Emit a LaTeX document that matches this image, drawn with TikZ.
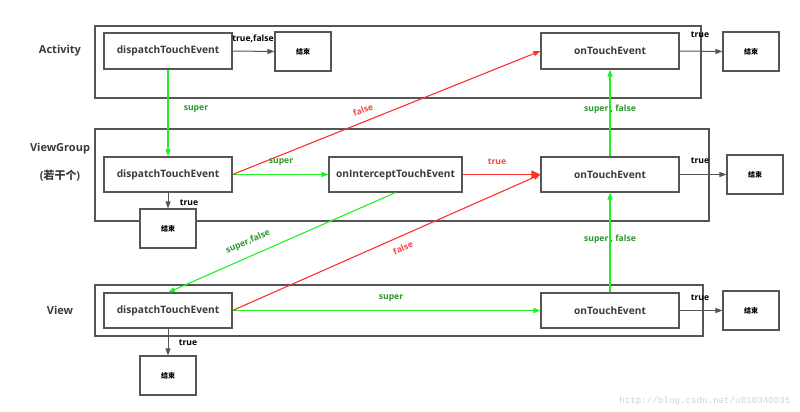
\documentclass[tikz,border=0pt]{standalone}
\usepackage{fontspec}
\setmainfont{Open Sans}
\newfontfamily\cjk{Noto Sans CJK SC}
\newfontfamily\wmfont{Liberation Mono}
\usetikzlibrary{arrows.meta}
\definecolor{boxgray}{HTML}{555555}
\definecolor{txtgray}{HTML}{3A3A3A}
\definecolor{lgreen}{HTML}{22F022}
\definecolor{dgreen}{HTML}{2A962A}
\definecolor{lred}{HTML}{FF3030}
\definecolor{tred}{HTML}{F04848}
\tikzset{
  grp/.style={draw=boxgray, line width=1.1pt, inner sep=0pt},
  fbox/.style={draw=boxgray, line width=1.1pt, fill=white, inner sep=0pt, font=\bfseries\fontsize{10.2}{12}\selectfont, text=txtgray},
  endbox/.style={draw=boxgray, line width=1.1pt, fill=white, inner sep=0pt, minimum width=56pt, minimum height=39pt, font=\cjk\bfseries\fontsize{7}{8}\selectfont, text=black},
  sidelbl/.style={font=\bfseries\fontsize{11}{13}\selectfont, text=txtgray},
  blbl/.style={font=\bfseries\fontsize{8.6}{10}\selectfont, text=black},
  glbl/.style={font=\bfseries\fontsize{8.6}{10}\selectfont, text=dgreen},
  rlbl/.style={font=\bfseries\fontsize{8.6}{10}\selectfont, text=tred},
  barr/.style={draw=boxgray, line width=1pt, -{Triangle[length=7pt,width=5pt]}},
  garr/.style={draw=lgreen, line width=1.1pt, -{Triangle[length=7pt,width=5pt]}},
  rarr/.style={draw=lred, line width=1.1pt, -{Triangle[length=7pt,width=5pt]}},
  rbig/.style={draw=lred, line width=1.2pt, -{Triangle[length=9pt,width=8pt]}}
}
\begin{document}
\begin{tikzpicture}[x=1pt,y=-1pt]
\useasboundingbox (0,0) rectangle (800,412);
% group boxes
\node[grp, minimum width=606pt, minimum height=72pt] (actbox) at (398,62) {};
\node[grp, minimum width=614pt, minimum height=92pt] (vgbox) at (402,175) {};
\node[grp, minimum width=608pt, minimum height=51pt] (vbox) at (399,310.5) {};
% side labels
\node[sidelbl] (lact) at (60,51) {Activity};
\node[sidelbl] (lvg) at (60,149) {ViewGroup};
\node[sidelbl] (lvg2) at (60,176) {({\cjk\bfseries 若干个})};
\node[sidelbl] (lview) at (60,310.5) {View};
% Activity row
\node[fbox, minimum width=128pt, minimum height=36pt] (adisp) at (168,51) {dispatchTouchEvent};
\node[endbox] (aend) at (303,51.5) {结束};
\node[fbox, minimum width=138pt, minimum height=36pt] (aon) at (610,51) {onTouchEvent};
\node[endbox] (aonend) at (751,51.5) {结束};
% ViewGroup row
\node[fbox, minimum width=128pt, minimum height=35pt] (gdisp) at (168,174.5) {dispatchTouchEvent};
\node[fbox, minimum width=133pt, minimum height=35pt] (gint) at (395.5,174.5) {onInterceptTouchEvent};
\node[fbox, minimum width=138pt, minimum height=35pt] (gon) at (610,174.5) {onTouchEvent};
\node[endbox] (gonend) at (755,174.5) {结束};
\node[endbox] (gend) at (168,228.5) {结束};
% View row
\node[fbox, minimum width=128pt, minimum height=35pt] (vdisp) at (168,310.5) {dispatchTouchEvent};
\node[fbox, minimum width=138pt, minimum height=35pt] (von) at (610,310.5) {onTouchEvent};
\node[endbox] (vonend) at (751,310.5) {结束};
\node[endbox] (vend) at (168,375.5) {结束};
% black arrows
\draw[barr] (adisp.east) -- (aend.west);
\draw[barr] (aon.east) -- (aonend.west);
\draw[barr] (gon.east) -- (gonend.west);
\draw[barr] (von.east) -- (vonend.west);
\draw[barr] (gdisp.south) -- (gend.north);
\draw[barr] (vdisp.south) -- (vend.north);
% green arrows
\draw[garr] (adisp.south) -- (gdisp.north);
\draw[garr] (gdisp.east) -- (gint.west);
\draw[garr] (vdisp.east) -- (von.west);
\draw[garr] (gon.north) -- (aon.south);
\draw[garr] (von.north) -- (gon.south);
\draw[garr] (gint.south) -- (vdisp.north);
% red arrows
\draw[rarr] (gdisp.east) -- (aon.west);
\draw[rbig] (gint.east) -- (gon.west);
\draw[rarr] (vdisp.east) -- (gon.west);
% labels
\node[blbl] (t1) at (253,39) {true,false};
\node[blbl] (t2) at (700,35) {true};
\node[blbl] (t3) at (700,161) {true};
\node[blbl] (t4) at (700,298) {true};
\node[blbl] (t5) at (189,203) {true};
\node[blbl] (t6) at (188,343) {true};
\node[glbl] (s1) at (196,109) {super};
\node[glbl] (s2) at (610,109) {super , false};
\node[glbl] (s3) at (610,239) {super , false};
\node[glbl] (s4) at (281,162) {super};
\node[glbl] (s5) at (391,298) {super};
\node[glbl, rotate=24, inner sep=1pt] (s6) at (248,242) {super,false};
\node[rlbl] (r1) at (497,162) {true};
\node[rlbl, rotate=22] (r2) at (363,110) {false};
\node[rlbl, rotate=24] (r3) at (403,248) {false};
% watermark
\node[font=\wmfont\fontsize{9.2}{11}\selectfont, text=black!18, anchor=east] (wm) at (794,401) {http://blog.csdn.net/u010340035};
\end{tikzpicture}
\end{document}
